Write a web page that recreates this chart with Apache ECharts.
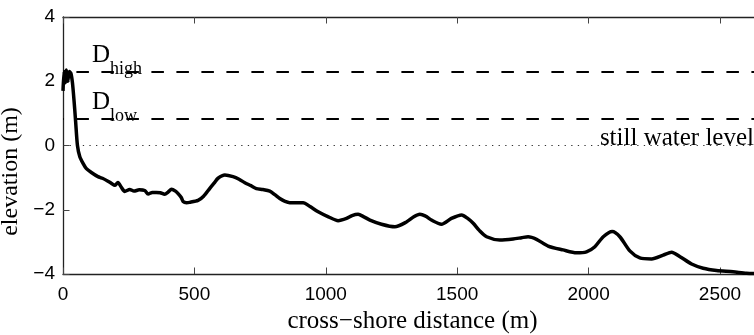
<!DOCTYPE html>
<html>
<head>
<meta charset="utf-8">
<script src="https://cdn.jsdelivr.net/npm/echarts@6/dist/echarts.min.js"></script>
<style>html,body{margin:0;padding:0;background:#fff;}#c{width:754px;height:335px;}</style>
</head>
<body>
<div id="c"></div>
<script>
// cross-shore distance (m)
const xDist = [0, 4, 8, 13, 18, 24, 30, 36, 42, 48, 55, 64, 76, 89, 108, 133, 150, 171, 185, 197, 209, 222, 235, 254, 270, 290, 311, 324, 340, 355, 370, 387, 400, 413, 428, 438, 450, 457, 470, 482, 514, 535, 558, 575, 590, 616, 647, 670, 692, 715, 736, 760, 787, 806, 825, 845, 863, 914, 940, 971, 1010, 1047, 1079, 1100, 1123, 1145, 1168, 1212, 1263, 1307, 1335, 1358, 1380, 1402, 1440, 1478, 1517, 1540, 1561, 1585, 1612, 1662, 1713, 1745, 1770, 1802, 1846, 1903, 1954, 1992, 2024, 2056, 2090, 2119, 2157, 2195, 2240, 2284, 2316, 2348, 2392, 2436, 2487, 2550, 2601, 2660];
// elevation (m)
const elev = [1.7, 2.3, 1.95, 2.35, 2.0, 2.3, 2.25, 1.95, 1.4, 0.75, 0.0, -0.35, -0.55, -0.72, -0.84, -0.97, -1.02, -1.11, -1.18, -1.24, -1.15, -1.3, -1.43, -1.37, -1.42, -1.38, -1.4, -1.51, -1.46, -1.46, -1.47, -1.52, -1.45, -1.36, -1.42, -1.5, -1.62, -1.74, -1.78, -1.77, -1.71, -1.58, -1.34, -1.17, -1.02, -0.92, -0.97, -1.05, -1.16, -1.25, -1.34, -1.37, -1.42, -1.53, -1.65, -1.74, -1.78, -1.78, -1.9, -2.06, -2.22, -2.34, -2.27, -2.18, -2.14, -2.22, -2.32, -2.45, -2.53, -2.38, -2.22, -2.14, -2.2, -2.32, -2.45, -2.27, -2.16, -2.27, -2.42, -2.65, -2.84, -2.94, -2.91, -2.87, -2.84, -2.92, -3.13, -3.25, -3.34, -3.31, -3.15, -2.84, -2.68, -2.84, -3.28, -3.5, -3.53, -3.41, -3.32, -3.46, -3.69, -3.82, -3.89, -3.93, -3.98, -3.99];
// reference levels (m)
const dHigh = 2.29;
const dLow = 0.82;
const stillWater = 0;
// axes
const xMin = 0, xMax = 2660, xStep = 500;
const yMin = -4, yMax = 4, yStep = 2;

const serif = 'Liberation Serif';
const sans = 'Liberation Sans';
const fmtY = v => (v < 0 ? '\u2212' + (-v) : String(v));
const fmtX = v => (v % xStep === 0 ? String(v) : '');

const chart = echarts.init(document.getElementById('c'), null, {renderer: 'canvas'});
const axisLine = {show: true, onZero: false, lineStyle: {color: '#222', width: 1.3}};
const tick = {show: true, inside: true, length: 6.5, lineStyle: {color: '#444', width: 1}};
const subRich = {
  d: {fontFamily: serif, fontSize: 25, lineHeight: 25, color: '#000', verticalAlign: 'bottom', padding: [0, 0, 10, 0]},
  s: {fontFamily: serif, fontSize: 18, lineHeight: 18, color: '#000', verticalAlign: 'bottom'}
};
chart.setOption({
  animation: false,
  backgroundColor: '#fff',
  grid: {left: 63, top: 17, bottom: 61, right: -8, outerBoundsMode: 'none', containLabel: false},
  xAxis: [{
    type: 'value', min: xMin, max: xMax, interval: xStep, position: 'bottom',
    name: 'cross\u2212shore distance (m)', nameLocation: 'middle', nameGap: 35,
    nameTextStyle: {fontFamily: serif, fontSize: 25, color: '#000'},
    axisLine: axisLine, axisTick: tick,
    axisLabel: {fontFamily: sans, fontSize: 19, color: '#000', margin: 11, formatter: fmtX},
    splitLine: {show: false}
  }, {
    type: 'value', min: xMin, max: xMax, interval: xStep, position: 'top',
    axisLine: axisLine, axisTick: tick, axisLabel: {show: false}, splitLine: {show: false}
  }],
  yAxis: [{
    type: 'value', min: yMin, max: yMax, interval: yStep,
    name: 'elevation (m)', nameLocation: 'middle', nameGap: 23, nameRotate: 90,
    nameTextStyle: {fontFamily: serif, fontSize: 24, color: '#000', padding: [0, 52, 0, 0]},
    axisLine: axisLine, axisTick: tick,
    axisLabel: {fontFamily: sans, fontSize: 19, color: '#000', margin: 8, formatter: fmtY},
    splitLine: {show: false}
  }],
  series: [{
    type: 'line',
    data: xDist.map((x, i) => [x, elev[i]]),
    showSymbol: false,
    smooth: 0.25,
    lineStyle: {color: '#000', width: 3.5},
    z: 5,
    markLine: {
      silent: true,
      symbol: 'none',
      z: 3,
      data: [
        {yAxis: dHigh, lineStyle: {type: [12.5, 12.5], dashOffset: 11.6, width: 2.2, color: '#000'},
         label: {show: true, position: 'insideStartTop', distance: [29, -6], formatter: '{d|D}{s|high}', rich: subRich}},
        {yAxis: dLow, lineStyle: {type: [12.5, 12.5], dashOffset: 11.6, width: 2.2, color: '#000'},
         label: {show: true, position: 'insideStartTop', distance: [29, -6], formatter: '{d|D}{s|low}', rich: subRich}},
        {yAxis: stillWater, lineStyle: {type: [1.3, 5.3], width: 1, color: '#333'},
         label: {show: true, position: 'insideEndTop', distance: [8, -5], formatter: 'still water level',
                 fontFamily: serif, fontSize: 25, color: '#000'}}
      ]
    }
  }]
});
</script>
</body>
</html>
